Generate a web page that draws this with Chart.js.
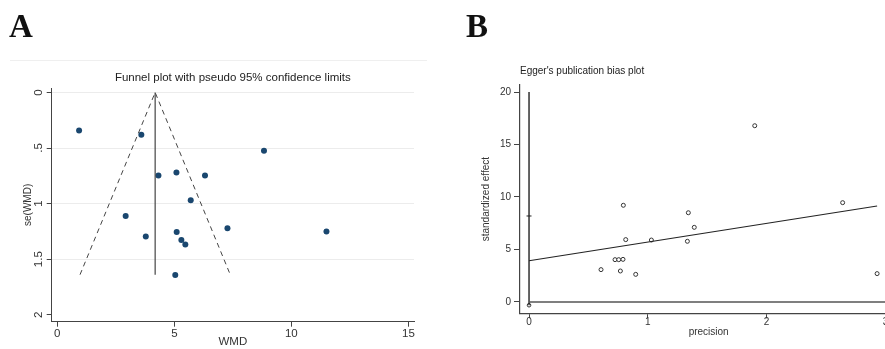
<!DOCTYPE html>
<html>
<head>
<meta charset="utf-8">
<script src="https://cdn.jsdelivr.net/npm/chart.js@4.4.1/dist/chart.umd.min.js"></script>
<style>
  html, body { margin:0; padding:0; background:#fff; overflow:hidden; }
  body { width:885px; height:349px; position:relative; }
  .panel { position:absolute; top:0; height:349px; }
  #panelA { left:0; width:440px; }
  #panelB { left:440px; width:468px; }
  .letter { position:absolute; top:8px; font:bold 33px "Liberation Serif","Times New Roman",serif; color:#111; }
  .rule { position:absolute; left:10px; width:417px; top:60px; border-top:1px solid #efefef; }
</style>
</head>
<body>
<div class="rule"></div>
<div class="panel" id="panelA"><canvas id="funnel"></canvas></div>
<div class="panel" id="panelB"><canvas id="egger"></canvas></div>
<div class="letter" style="left:9px">A</div>
<div class="letter" style="left:466px">B</div>
<script>
// ---- A: funnel plot (WMD vs its standard error) ----
const wmd   = [0.93, 3.59, 8.83, 4.32, 5.09, 6.31, 5.70, 2.92, 7.27, 11.50, 5.10, 3.78, 5.30, 5.47, 5.04];
const seWmd = [0.342, 0.381, 0.525, 0.748, 0.720, 0.748, 0.969, 1.111, 1.222, 1.252, 1.255, 1.297, 1.327, 1.369, 1.642];
// pooled estimate line and pseudo 95% limits
const pooledX  = [4.18, 4.18];
const pooledSe = [0, 1.64];
const limitX   = [0.97, 4.18, 7.39];
const limitSe  = [1.64, 0, 1.64];
const wmdTicks = [0, 5, 10, 15];
const seTicks = [0, 0.5, 1, 1.5, 2];
const seTickLabels = ["0", ".5", "1", "1.5", "2"];

// ---- B: Egger regression (standardized effect vs precision) ----
const precision = [1.90, 2.64, 0.794, 1.341, 1.391, 0.814, 1.03, 1.333, 0.724, 0.755, 0.791, 0.606, 0.769, 0.898, 2.93];
const stdEffect = [16.79, 9.46, 9.21, 8.50, 7.11, 5.94, 5.90, 5.78, 4.03, 4.03, 4.06, 3.08, 2.95, 2.63, 2.70];
const fitX = [0, 2.93];
const fitY = [3.93, 9.14];
const interceptX = [0, 0];
const interceptY = [-0.31, 20];
const biasMarkY = [8.19];
const lowMarkY = [-0.31];
const zeroX = [0, 3.1];
const zeroY = [0, 0];
const precTicks = [0, 1, 2, 3];
const effectTicks = [0, 5, 10, 15, 20];

const FONT = "'Liberation Sans', Arial, sans-serif";
const AXIS = "#444";
Chart.defaults.font.family = FONT;
Chart.defaults.color = "#333";
Chart.defaults.animation = false;

const pts = (xs, ys) => xs.map((x, i) => ({x, y: ys[i]}));
const fixTicks = vals => scale => { scale.ticks = vals.map(v => ({value: v})); };

// text above the plot region
const panelTitle = {
  id: "panelTitle",
  afterDraw(chart, args, o) {
    const {ctx, chartArea} = chart;
    ctx.save();
    ctx.font = o.font;
    ctx.fillStyle = "#222";
    ctx.textAlign = o.align;
    ctx.textBaseline = "middle";
    const x = o.align === "center" ? (chartArea.left + chartArea.right) / 2 : chartArea.left;
    ctx.fillText(o.text, x, chartArea.top - o.offset);
    ctx.restore();
  }
};

// Stata-style vertical tick labels on the se axis
const rotatedTicks = {
  id: "rotatedTicks",
  afterDraw(chart) {
    const s = chart.scales.y, ctx = chart.ctx;
    ctx.save();
    ctx.font = "11.5px " + FONT;
    ctx.fillStyle = "#333";
    ctx.textAlign = "center";
    ctx.textBaseline = "middle";
    seTicks.forEach((v, i) => {
      ctx.save();
      ctx.translate(s.right - 13, s.getPixelForValue(v));
      ctx.rotate(-Math.PI / 2);
      ctx.fillText(seTickLabels[i], 0, 0);
      ctx.restore();
    });
    ctx.restore();
  }
};

new Chart(document.getElementById("funnel"), {
  type: "scatter",
  data: {
    datasets: [
      {data: pts(limitX, limitSe), showLine: true, borderColor: AXIS, borderWidth: 1, borderDash: [5, 4], pointRadius: 0},
      {data: pts(pooledX, pooledSe), showLine: true, borderColor: AXIS, borderWidth: 1.2, pointRadius: 0},
      {data: pts(wmd, seWmd), backgroundColor: "#1a476f", borderWidth: 0, pointRadius: 3}
    ]
  },
  options: {
    responsive: true, maintainAspectRatio: false,
    layout: {padding: {top: 88, right: 26, bottom: 0, left: 0}},
    plugins: {
      legend: {display: false}, tooltip: {enabled: false},
      panelTitle: {text: "Funnel plot with pseudo 95% confidence limits", font: "11.5px " + FONT, align: "center", offset: 10.3}
    },
    scales: {
      x: {
        type: "linear", min: -0.24, max: 15.24,
        afterBuildTicks: fixTicks(wmdTicks),
        afterFit: s => { s.height = 27.3; },
        grid: {drawOnChartArea: false, tickLength: 5, tickColor: AXIS},
        border: {color: AXIS, width: 1},
        ticks: {padding: 0, font: {size: 11.5}, color: "#333"},
        title: {display: true, text: "WMD", font: {size: 11.5}, color: "#333", padding: {top: 0, bottom: 0}}
      },
      y: {
        type: "linear", reverse: true, min: -0.04, max: 2.063,
        afterBuildTicks: fixTicks(seTicks),
        afterFit: s => { s.width = 51.7; },
        grid: {
          color: c => c.tick && c.tick.value === 2 ? "rgba(0,0,0,0)" : "#ececec",
          tickLength: 5, tickColor: AXIS
        },
        border: {color: AXIS, width: 1},
        ticks: {display: false},
        title: {display: true, text: "se(WMD)", font: {size: 10}, color: "#333", padding: {top: 22.3, bottom: 0}}
      }
    }
  },
  plugins: [panelTitle, rotatedTicks]
});

new Chart(document.getElementById("egger"), {
  type: "scatter",
  data: {
    datasets: [
      {data: pts(zeroX, zeroY), showLine: true, borderColor: "#555", borderWidth: 1.5, pointRadius: 0},
      {data: pts(interceptX, interceptY), showLine: true, borderColor: "#222", borderWidth: 1.4, pointRadius: 0},
      {data: pts(fitX, fitY), showLine: true, borderColor: "#222", borderWidth: 1.1, pointRadius: 0},
      {data: pts([0], biasMarkY), pointStyle: "line", pointRadius: 2.5, borderColor: "#222", borderWidth: 1},
      {data: pts([0], lowMarkY), pointRadius: 1.8, borderColor: "#333", borderWidth: 1, backgroundColor: "#fff"},
      {data: pts(precision, stdEffect), pointRadius: 2, borderColor: "#333", borderWidth: 1, backgroundColor: "#fff"}
    ]
  },
  options: {
    responsive: true, maintainAspectRatio: false,
    layout: {padding: {top: 85, right: 10.7, bottom: 0, left: 0}},
    plugins: {
      legend: {display: false}, tooltip: {enabled: false},
      panelTitle: {text: "Egger's publication bias plot", font: "10px " + FONT, align: "left", offset: 13.3}
    },
    scales: {
      x: {
        type: "linear", min: -0.076, max: 3.1,
        afterBuildTicks: fixTicks(precTicks),
        afterFit: s => { s.height = 35.7; },
        grid: {drawOnChartArea: false, tickLength: 5, tickColor: AXIS},
        border: {color: AXIS, width: 1.2},
        ticks: {padding: -2, font: {size: 10}, color: "#333"},
        title: {display: true, text: "precision", font: {size: 10}, color: "#333", padding: {top: 0, bottom: 10.7}}
      },
      y: {
        type: "linear", min: -1.08, max: 20.67,
        afterBuildTicks: fixTicks(effectTicks),
        afterFit: s => { s.width = 80; },
        grid: {drawOnChartArea: false, tickLength: 6, tickColor: AXIS},
        border: {color: AXIS, width: 1.2},
        ticks: {padding: 3, font: {size: 10}, color: "#333"},
        title: {display: true, text: "standardized effect", font: {size: 10}, color: "#333", padding: {top: 40.7, bottom: 0}}
      }
    }
  },
  plugins: [panelTitle]
});
</script>
</body>
</html>
